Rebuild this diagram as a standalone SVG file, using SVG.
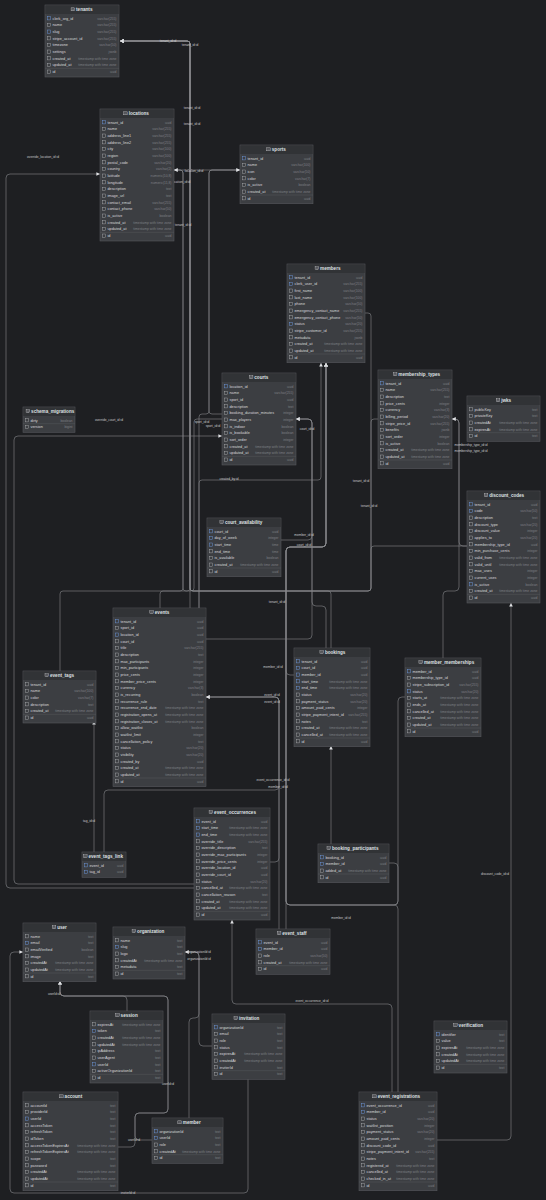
<svg xmlns="http://www.w3.org/2000/svg" xmlns:xlink="http://www.w3.org/1999/xlink" width="546" height="1200" viewBox="0 0 546 1200">
<style>
.bd{fill:#3c3e42;stroke:#56585d;stroke-width:.6}
.hd{fill:#313336}
.tt{font-family:"Liberation Sans",Arial,sans-serif;font-size:4.6px;font-weight:700;fill:#dfe0e3}
.cn{font-family:"Liberation Sans",Arial,sans-serif;font-size:3.8px;fill:#d6d7da}
.ct{font-family:"Liberation Sans",Arial,sans-serif;font-size:3.4px;fill:#7c7e83;text-anchor:end}
.sp{stroke:#56585d;stroke-width:.5}
.cx path{fill:none;stroke:#86888c;stroke-width:.6;marker-end:url(#a)}
.lb{font-family:"Liberation Sans",Arial,sans-serif;font-size:3.2px;fill:#c9cacd;text-anchor:middle}
</style>
<defs>
<marker id="a" viewBox="0 0 6 6" refX="6" refY="3" markerWidth="3.6" markerHeight="3.6" markerUnits="userSpaceOnUse" orient="auto"><path d="M0,0L6,3L0,6z" fill="#e0e1e4"/></marker>
<rect id="i" x="2.4" width="3.2" height="3.2" fill="none" stroke="#b5b6ba" stroke-width=".4"/>
<rect id="f" x="2.4" width="3.2" height="3.2" fill="none" stroke="#6e9ae0" stroke-width=".45"/>
<g id="ti"><rect width="3.6" height="3" fill="none" stroke="#c8c9cc" stroke-width=".4"/><path d="M0,1H3.6M1.2,1V3M2.4,1V3" stroke="#c8c9cc" stroke-width=".3"/></g>
</defs>
<rect width="546" height="1200" fill="#1e1f22"/>

<g id="connectors" class="cx">
<path d="M174,170 H187 Q190,170 190,167 V44 Q190,41 187,41 H120"/>
<path d="M240,170 H193 Q190,170 190,167 V44 Q190,41 187,41 H120"/>
<path d="M190,608 V44 Q190,41 187,41 H120"/>
<path d="M60,671 V594 Q60,591 63,591 H187 Q190,591 190,588 V44 Q190,41 187,41 H120"/>
<path d="M365,313 H368 Q371,313 371,316 V588 Q371,591 368,591 H193 Q190,591 190,588 V44 Q190,41 187,41 H120"/>
<path d="M378,419 H374 Q371,419 371,422 V588 Q371,591 368,591 H193 Q190,591 190,588 V44 Q190,41 187,41 H120"/>
<path d="M467,546 H374 Q371,546 371,549 V588 Q371,591 368,591 H193 Q190,591 190,588 V44 Q190,41 187,41 H120"/>
<path d="M331,648 V594 Q331,591 328,591 H193 Q190,591 190,588 V44 Q190,41 187,41 H120"/>
<path d="M160,608 V594 Q160,591 163,591 H180 Q183,591 183,588 V173 Q183,170 180,170 H174"/>
<path d="M222,419 H197 Q194,419 194,422 V588 Q194,591 191,591 H186 Q183,591 183,588 V173 Q183,170 180,170 H174"/>
<path d="M222,414 H212 Q209,414 209,411 V173 Q209,170 212,170 H240"/>
<path d="M199,608 V417 Q199,414 202,414 H206 Q209,414 209,411 V173 Q209,170 212,170 H240"/>
<path d="M199,608 V483 Q199,480 202,480 H318 Q321,480 321,477 V363"/>
<path d="M294,675 H290 Q286,675 286,671 V551 Q286,547 290,547 H322 Q326,547 326,543 V363"/>
<path d="M405,697 H402 Q398,697 398,701 V901 Q398,905 394,905 H290 Q286,905 286,901 V551 Q286,547 290,547 H322 Q326,547 326,543 V363"/>
<path d="M389,863 H394 Q398,863 398,867 V901 Q398,905 394,905 H290 Q286,905 286,901 V551 Q286,547 290,547 H322 Q326,547 326,543 V363"/>
<path d="M286,929 V551 Q286,547 290,547 H322 Q326,547 326,543 V363"/>
<path d="M398,1092 V909 Q398,905 394,905 H290 Q286,905 286,901 V551 Q286,547 290,547 H322 Q326,547 326,543 V363"/>
<path d="M281,540 H308 Q312,540 312,536 V423 Q312,419 308,419 H296"/>
<path d="M206,639 H308 Q312,639 312,635 V423 Q312,419 308,419 H296"/>
<path d="M326,648 V610 Q326,606 322,606 H316 Q312,606 312,602 V423 Q312,419 308,419 H296"/>
<path d="M194,884 H18 Q14,884 14,880 V440 Q14,436 18,436 H222"/>
<path d="M194,888 H10 Q6,888 6,884 V178 Q6,174 10,174 H100"/>
<path d="M270,862 H275 Q279,862 279,858 V701 Q279,697 275,697 H206"/>
<path d="M104,852 V794 Q104,790 108,790 H275 Q279,790 279,786 V701 Q279,697 275,697 H206"/>
<path d="M279,929 V701 Q279,697 275,697 H206"/>
<path d="M94,852 V721"/>
<path d="M331,844 V746"/>
<path d="M443,658 V595 Q443,591 447,591 H455 Q459,591 459,587 V423 Q459,419 455,419 H452"/>
<path d="M467,546 H463 Q459,546 459,542 V423 Q459,419 455,419 H452"/>
<path d="M437,1140 H507 Q511,1140 511,1136 V603"/>
<path d="M392,1092 V1008 Q392,1004 388,1004 H236 Q232,1004 232,1000 V920"/>
<path d="M127,1011 V1000 Q127,996 123,996 H64 Q60,996 60,992 V981"/>
<path d="M118,1147 H131 Q135,1147 135,1143 V1117 Q135,1113 139,1113 H164 Q168,1113 168,1109 V1000 Q168,996 164,996 H64 Q60,996 60,992 V981"/>
<path d="M152,1140 H139 Q135,1140 135,1136 V1117 Q135,1113 139,1113 H164 Q168,1113 168,1109 V1000 Q168,996 164,996 H64 Q60,996 60,992 V981"/>
<path d="M248,1079 V1189 Q248,1193 244,1193 H14 Q10,1193 10,1189 V956 Q10,952 14,952 H23"/>
<path d="M212,1046 H203 Q199,1046 199,1042 V956 Q199,952 195,952 H185"/>
<path d="M189,1118 V1022 Q189,1018 193,1018 H195 Q199,1018 199,1014 V956 Q199,952 195,952 H185"/>
</g>

<g id="connector-labels">
<text class="lb" x="168" y="42">tenant_id:id</text>
<text class="lb" x="190" y="46">tenant_id:id</text>
<text class="lb" x="192" y="109">tenant_id:id</text>
<text class="lb" x="192" y="125">tenant_id:id</text>
<text class="lb" x="183" y="226">tenant_id:id</text>
<text class="lb" x="361" y="482">tenant_id:id</text>
<text class="lb" x="369" y="507">tenant_id:id</text>
<text class="lb" x="277" y="603">tenant_id:id</text>
<text class="lb" x="194" y="172">location_id:id</text>
<text class="lb" x="181" y="183">location_id:id</text>
<text class="lb" x="43" y="158">override_location_id:id</text>
<text class="lb" x="109" y="421">override_court_id:id</text>
<text class="lb" x="202" y="423">sport_id:id</text>
<text class="lb" x="213" y="427">sport_id:id</text>
<text class="lb" x="307" y="430">court_id:id</text>
<text class="lb" x="304" y="546">court_id:id</text>
<text class="lb" x="229" y="480">created_by:id</text>
<text class="lb" x="304" y="536">member_id:id</text>
<text class="lb" x="273" y="668">member_id:id</text>
<text class="lb" x="278" y="788">member_id:id</text>
<text class="lb" x="341" y="919">member_id:id</text>
<text class="lb" x="471" y="446">membership_type_id:id</text>
<text class="lb" x="471" y="452">membership_type_id:id</text>
<text class="lb" x="272" y="696">event_id:id</text>
<text class="lb" x="272" y="703">event_id:id</text>
<text class="lb" x="273" y="781">event_occurrence_id:id</text>
<text class="lb" x="312" y="1002">event_occurrence_id:id</text>
<text class="lb" x="326" y="744">booking_id:id</text>
<text class="lb" x="89" y="822">tag_id:id</text>
<text class="lb" x="495" y="875">discount_code_id:id</text>
<text class="lb" x="199" y="953">organizationId:id</text>
<text class="lb" x="199" y="960">organizationId:id</text>
<text class="lb" x="54" y="995">userId:id</text>
<text class="lb" x="168" y="1085">userId:id</text>
<text class="lb" x="134" y="1141">userId:id</text>
<text class="lb" x="128" y="1194">inviterId:id</text>
</g>

<g id="tenants" transform="translate(45,5)">
<rect class="bd" width="74" height="72"/><rect class="hd" x=".3" y=".3" width="73.4" height="8.7"/>
<use href="#ti" x="26.1" y="2.8"/><text class="tt" x="31.1" y="6.3">tenants</text>
<use href="#f" y="11.7"/><text class="cn" x="7.5" y="14.6">clerk_org_id</text><text class="ct" x="71.5" y="14.6">varchar(255)</text>
<use href="#i" y="18.4"/><text class="cn" x="7.5" y="21.3">name</text><text class="ct" x="71.5" y="21.3">varchar(255)</text>
<use href="#f" y="25"/><text class="cn" x="7.5" y="27.9">slug</text><text class="ct" x="71.5" y="27.9">varchar(255)</text>
<use href="#i" y="31.7"/><text class="cn" x="7.5" y="34.6">stripe_account_id</text><text class="ct" x="71.5" y="34.6">varchar(255)</text>
<use href="#i" y="38.4"/><text class="cn" x="7.5" y="41.3">timezone</text><text class="ct" x="71.5" y="41.3">varchar(50)</text>
<use href="#i" y="45"/><text class="cn" x="7.5" y="47.9">settings</text><text class="ct" x="71.5" y="47.9">jsonb</text>
<use href="#i" y="51.7"/><text class="cn" x="7.5" y="54.6">created_at</text><text class="ct" x="71.5" y="54.6">timestamp with time zone</text>
<use href="#i" y="58.4"/><text class="cn" x="7.5" y="61.3">updated_at</text><text class="ct" x="71.5" y="61.3">timestamp with time zone</text>
<line class="sp" x1="0" y1="63.3" x2="74" y2="63.3"/>
<use href="#i" y="65"/><text class="cn" x="7.5" y="67.9">id</text><text class="ct" x="71.5" y="67.9">uuid</text>
</g>

<g id="locations" transform="translate(100,109)">
<rect class="bd" width="74" height="132"/><rect class="hd" x=".3" y=".3" width="73.4" height="8.7"/>
<use href="#ti" x="23.7" y="2.8"/><text class="tt" x="28.7" y="6.3">locations</text>
<use href="#f" y="11.7"/><text class="cn" x="7.5" y="14.6">tenant_id</text><text class="ct" x="71.5" y="14.6">uuid</text>
<use href="#i" y="18.4"/><text class="cn" x="7.5" y="21.3">name</text><text class="ct" x="71.5" y="21.3">varchar(255)</text>
<use href="#i" y="25"/><text class="cn" x="7.5" y="27.9">address_line1</text><text class="ct" x="71.5" y="27.9">varchar(255)</text>
<use href="#i" y="31.7"/><text class="cn" x="7.5" y="34.6">address_line2</text><text class="ct" x="71.5" y="34.6">varchar(255)</text>
<use href="#i" y="38.4"/><text class="cn" x="7.5" y="41.3">city</text><text class="ct" x="71.5" y="41.3">varchar(100)</text>
<use href="#i" y="45"/><text class="cn" x="7.5" y="47.9">region</text><text class="ct" x="71.5" y="47.9">varchar(100)</text>
<use href="#i" y="51.7"/><text class="cn" x="7.5" y="54.6">postal_code</text><text class="ct" x="71.5" y="54.6">varchar(20)</text>
<use href="#i" y="58.4"/><text class="cn" x="7.5" y="61.3">country</text><text class="ct" x="71.5" y="61.3">varchar(2)</text>
<use href="#i" y="65"/><text class="cn" x="7.5" y="67.9">latitude</text><text class="ct" x="71.5" y="67.9">numeric(10,8)</text>
<use href="#i" y="71.7"/><text class="cn" x="7.5" y="74.6">longitude</text><text class="ct" x="71.5" y="74.6">numeric(11,8)</text>
<use href="#i" y="78.4"/><text class="cn" x="7.5" y="81.3">description</text><text class="ct" x="71.5" y="81.3">text</text>
<use href="#i" y="85"/><text class="cn" x="7.5" y="87.9">image_url</text><text class="ct" x="71.5" y="87.9">text</text>
<use href="#i" y="91.7"/><text class="cn" x="7.5" y="94.6">contact_email</text><text class="ct" x="71.5" y="94.6">varchar(255)</text>
<use href="#i" y="98.4"/><text class="cn" x="7.5" y="101.3">contact_phone</text><text class="ct" x="71.5" y="101.3">varchar(50)</text>
<use href="#i" y="105"/><text class="cn" x="7.5" y="107.9">is_active</text><text class="ct" x="71.5" y="107.9">boolean</text>
<use href="#i" y="111.7"/><text class="cn" x="7.5" y="114.6">created_at</text><text class="ct" x="71.5" y="114.6">timestamp with time zone</text>
<use href="#i" y="118.4"/><text class="cn" x="7.5" y="121.3">updated_at</text><text class="ct" x="71.5" y="121.3">timestamp with time zone</text>
<line class="sp" x1="0" y1="123.3" x2="74" y2="123.3"/>
<use href="#i" y="125"/><text class="cn" x="7.5" y="127.9">id</text><text class="ct" x="71.5" y="127.9">uuid</text>
</g>

<g id="sports" transform="translate(240,145)">
<rect class="bd" width="73" height="58.7"/><rect class="hd" x=".3" y=".3" width="72.4" height="8.7"/>
<use href="#ti" x="26.8" y="2.8"/><text class="tt" x="31.8" y="6.3">sports</text>
<use href="#f" y="11.7"/><text class="cn" x="7.5" y="14.6">tenant_id</text><text class="ct" x="70.5" y="14.6">uuid</text>
<use href="#i" y="18.4"/><text class="cn" x="7.5" y="21.3">name</text><text class="ct" x="70.5" y="21.3">varchar(100)</text>
<use href="#i" y="25"/><text class="cn" x="7.5" y="27.9">icon</text><text class="ct" x="70.5" y="27.9">varchar(50)</text>
<use href="#i" y="31.7"/><text class="cn" x="7.5" y="34.6">color</text><text class="ct" x="70.5" y="34.6">varchar(7)</text>
<use href="#i" y="38.4"/><text class="cn" x="7.5" y="41.3">is_active</text><text class="ct" x="70.5" y="41.3">boolean</text>
<use href="#i" y="45"/><text class="cn" x="7.5" y="47.9">created_at</text><text class="ct" x="70.5" y="47.9">timestamp with time zone</text>
<line class="sp" x1="0" y1="50" x2="73" y2="50"/>
<use href="#i" y="51.7"/><text class="cn" x="7.5" y="54.6">id</text><text class="ct" x="70.5" y="54.6">uuid</text>
</g>

<g id="schema_migrations" transform="translate(23,407)">
<rect class="bd" width="52" height="25.3"/><rect class="hd" x=".3" y=".3" width="51.4" height="8.7"/>
<use href="#ti" x="3.1" y="2.8"/><text class="tt" x="8.1" y="6.3">schema_migrations</text>
<use href="#i" y="11.7"/><text class="cn" x="7.5" y="14.6">dirty</text><text class="ct" x="49.5" y="14.6">boolean</text>
<line class="sp" x1="0" y1="16.7" x2="52" y2="16.7"/>
<use href="#i" y="18.4"/><text class="cn" x="7.5" y="21.3">version</text><text class="ct" x="49.5" y="21.3">bigint</text>
</g>

<g id="courts" transform="translate(222,373)">
<rect class="bd" width="74" height="92"/><rect class="hd" x=".3" y=".3" width="73.4" height="8.7"/>
<use href="#ti" x="27.3" y="2.8"/><text class="tt" x="32.3" y="6.3">courts</text>
<use href="#f" y="11.7"/><text class="cn" x="7.5" y="14.6">location_id</text><text class="ct" x="71.5" y="14.6">uuid</text>
<use href="#i" y="18.4"/><text class="cn" x="7.5" y="21.3">name</text><text class="ct" x="71.5" y="21.3">varchar(255)</text>
<use href="#i" y="25"/><text class="cn" x="7.5" y="27.9">sport_id</text><text class="ct" x="71.5" y="27.9">uuid</text>
<use href="#i" y="31.7"/><text class="cn" x="7.5" y="34.6">description</text><text class="ct" x="71.5" y="34.6">text</text>
<use href="#i" y="38.4"/><text class="cn" x="7.5" y="41.3">booking_duration_minutes</text><text class="ct" x="71.5" y="41.3">integer</text>
<use href="#i" y="45"/><text class="cn" x="7.5" y="47.9">max_players</text><text class="ct" x="71.5" y="47.9">integer</text>
<use href="#i" y="51.7"/><text class="cn" x="7.5" y="54.6">is_indoor</text><text class="ct" x="71.5" y="54.6">boolean</text>
<use href="#i" y="58.4"/><text class="cn" x="7.5" y="61.3">is_bookable</text><text class="ct" x="71.5" y="61.3">boolean</text>
<use href="#i" y="65"/><text class="cn" x="7.5" y="67.9">sort_order</text><text class="ct" x="71.5" y="67.9">integer</text>
<use href="#i" y="71.7"/><text class="cn" x="7.5" y="74.6">created_at</text><text class="ct" x="71.5" y="74.6">timestamp with time zone</text>
<use href="#i" y="78.4"/><text class="cn" x="7.5" y="81.3">updated_at</text><text class="ct" x="71.5" y="81.3">timestamp with time zone</text>
<line class="sp" x1="0" y1="83.3" x2="74" y2="83.3"/>
<use href="#i" y="85"/><text class="cn" x="7.5" y="87.9">id</text><text class="ct" x="71.5" y="87.9">uuid</text>
</g>

<g id="members" transform="translate(287,264)">
<rect class="bd" width="78" height="98.7"/><rect class="hd" x=".3" y=".3" width="77.4" height="8.7"/>
<use href="#ti" x="28.1" y="2.8"/><text class="tt" x="33.1" y="6.3">members</text>
<use href="#f" y="11.7"/><text class="cn" x="7.5" y="14.6">tenant_id</text><text class="ct" x="75.5" y="14.6">uuid</text>
<use href="#f" y="18.4"/><text class="cn" x="7.5" y="21.3">clerk_user_id</text><text class="ct" x="75.5" y="21.3">varchar(255)</text>
<use href="#i" y="25"/><text class="cn" x="7.5" y="27.9">first_name</text><text class="ct" x="75.5" y="27.9">varchar(100)</text>
<use href="#i" y="31.7"/><text class="cn" x="7.5" y="34.6">last_name</text><text class="ct" x="75.5" y="34.6">varchar(100)</text>
<use href="#i" y="38.4"/><text class="cn" x="7.5" y="41.3">phone</text><text class="ct" x="75.5" y="41.3">varchar(50)</text>
<use href="#i" y="45"/><text class="cn" x="7.5" y="47.9">emergency_contact_name</text><text class="ct" x="75.5" y="47.9">varchar(255)</text>
<use href="#i" y="51.7"/><text class="cn" x="7.5" y="54.6">emergency_contact_phone</text><text class="ct" x="75.5" y="54.6">varchar(50)</text>
<use href="#f" y="58.4"/><text class="cn" x="7.5" y="61.3">status</text><text class="ct" x="75.5" y="61.3">varchar(20)</text>
<use href="#i" y="65"/><text class="cn" x="7.5" y="67.9">stripe_customer_id</text><text class="ct" x="75.5" y="67.9">varchar(255)</text>
<use href="#i" y="71.7"/><text class="cn" x="7.5" y="74.6">metadata</text><text class="ct" x="75.5" y="74.6">jsonb</text>
<use href="#i" y="78.4"/><text class="cn" x="7.5" y="81.3">created_at</text><text class="ct" x="75.5" y="81.3">timestamp with time zone</text>
<use href="#i" y="85"/><text class="cn" x="7.5" y="87.9">updated_at</text><text class="ct" x="75.5" y="87.9">timestamp with time zone</text>
<line class="sp" x1="0" y1="90" x2="78" y2="90"/>
<use href="#i" y="91.7"/><text class="cn" x="7.5" y="94.6">id</text><text class="ct" x="75.5" y="94.6">uuid</text>
</g>

<g id="membership_types" transform="translate(378,370)">
<rect class="bd" width="74" height="98.7"/><rect class="hd" x=".3" y=".3" width="73.4" height="8.7"/>
<use href="#ti" x="15.3" y="2.8"/><text class="tt" x="20.3" y="6.3">membership_types</text>
<use href="#f" y="11.7"/><text class="cn" x="7.5" y="14.6">tenant_id</text><text class="ct" x="71.5" y="14.6">uuid</text>
<use href="#i" y="18.4"/><text class="cn" x="7.5" y="21.3">name</text><text class="ct" x="71.5" y="21.3">varchar(255)</text>
<use href="#i" y="25"/><text class="cn" x="7.5" y="27.9">description</text><text class="ct" x="71.5" y="27.9">text</text>
<use href="#i" y="31.7"/><text class="cn" x="7.5" y="34.6">price_cents</text><text class="ct" x="71.5" y="34.6">integer</text>
<use href="#i" y="38.4"/><text class="cn" x="7.5" y="41.3">currency</text><text class="ct" x="71.5" y="41.3">varchar(3)</text>
<use href="#i" y="45"/><text class="cn" x="7.5" y="47.9">billing_period</text><text class="ct" x="71.5" y="47.9">varchar(20)</text>
<use href="#i" y="51.7"/><text class="cn" x="7.5" y="54.6">stripe_price_id</text><text class="ct" x="71.5" y="54.6">varchar(255)</text>
<use href="#i" y="58.4"/><text class="cn" x="7.5" y="61.3">benefits</text><text class="ct" x="71.5" y="61.3">jsonb</text>
<use href="#i" y="65"/><text class="cn" x="7.5" y="67.9">sort_order</text><text class="ct" x="71.5" y="67.9">integer</text>
<use href="#i" y="71.7"/><text class="cn" x="7.5" y="74.6">is_active</text><text class="ct" x="71.5" y="74.6">boolean</text>
<use href="#i" y="78.4"/><text class="cn" x="7.5" y="81.3">created_at</text><text class="ct" x="71.5" y="81.3">timestamp with time zone</text>
<use href="#i" y="85"/><text class="cn" x="7.5" y="87.9">updated_at</text><text class="ct" x="71.5" y="87.9">timestamp with time zone</text>
<line class="sp" x1="0" y1="90" x2="74" y2="90"/>
<use href="#i" y="91.7"/><text class="cn" x="7.5" y="94.6">id</text><text class="ct" x="71.5" y="94.6">uuid</text>
</g>

<g id="jwks" transform="translate(467,396)">
<rect class="bd" width="73" height="45.3"/><rect class="hd" x=".3" y=".3" width="72.4" height="8.7"/>
<use href="#ti" x="29.2" y="2.8"/><text class="tt" x="34.2" y="6.3">jwks</text>
<use href="#i" y="11.7"/><text class="cn" x="7.5" y="14.6">publicKey</text><text class="ct" x="70.5" y="14.6">text</text>
<use href="#i" y="18.4"/><text class="cn" x="7.5" y="21.3">privateKey</text><text class="ct" x="70.5" y="21.3">text</text>
<use href="#i" y="25"/><text class="cn" x="7.5" y="27.9">createdAt</text><text class="ct" x="70.5" y="27.9">timestamp with time zone</text>
<use href="#i" y="31.7"/><text class="cn" x="7.5" y="34.6">expiresAt</text><text class="ct" x="70.5" y="34.6">timestamp with time zone</text>
<line class="sp" x1="0" y1="36.7" x2="73" y2="36.7"/>
<use href="#i" y="38.4"/><text class="cn" x="7.5" y="41.3">id</text><text class="ct" x="70.5" y="41.3">text</text>
</g>

<g id="discount_codes" transform="translate(467,491)">
<rect class="bd" width="73" height="112"/><rect class="hd" x=".3" y=".3" width="72.4" height="8.7"/>
<use href="#ti" x="17.2" y="2.8"/><text class="tt" x="22.2" y="6.3">discount_codes</text>
<use href="#f" y="11.7"/><text class="cn" x="7.5" y="14.6">tenant_id</text><text class="ct" x="70.5" y="14.6">uuid</text>
<use href="#f" y="18.4"/><text class="cn" x="7.5" y="21.3">code</text><text class="ct" x="70.5" y="21.3">varchar(50)</text>
<use href="#i" y="25"/><text class="cn" x="7.5" y="27.9">description</text><text class="ct" x="70.5" y="27.9">text</text>
<use href="#i" y="31.7"/><text class="cn" x="7.5" y="34.6">discount_type</text><text class="ct" x="70.5" y="34.6">varchar(20)</text>
<use href="#i" y="38.4"/><text class="cn" x="7.5" y="41.3">discount_value</text><text class="ct" x="70.5" y="41.3">integer</text>
<use href="#i" y="45"/><text class="cn" x="7.5" y="47.9">applies_to</text><text class="ct" x="70.5" y="47.9">varchar(20)</text>
<use href="#i" y="51.7"/><text class="cn" x="7.5" y="54.6">membership_type_id</text><text class="ct" x="70.5" y="54.6">uuid</text>
<use href="#i" y="58.4"/><text class="cn" x="7.5" y="61.3">min_purchase_cents</text><text class="ct" x="70.5" y="61.3">integer</text>
<use href="#i" y="65"/><text class="cn" x="7.5" y="67.9">valid_from</text><text class="ct" x="70.5" y="67.9">timestamp with time zone</text>
<use href="#i" y="71.7"/><text class="cn" x="7.5" y="74.6">valid_until</text><text class="ct" x="70.5" y="74.6">timestamp with time zone</text>
<use href="#i" y="78.4"/><text class="cn" x="7.5" y="81.3">max_uses</text><text class="ct" x="70.5" y="81.3">integer</text>
<use href="#i" y="85"/><text class="cn" x="7.5" y="87.9">current_uses</text><text class="ct" x="70.5" y="87.9">integer</text>
<use href="#f" y="91.7"/><text class="cn" x="7.5" y="94.6">is_active</text><text class="ct" x="70.5" y="94.6">boolean</text>
<use href="#i" y="98.4"/><text class="cn" x="7.5" y="101.3">created_at</text><text class="ct" x="70.5" y="101.3">timestamp with time zone</text>
<line class="sp" x1="0" y1="103.3" x2="73" y2="103.3"/>
<use href="#i" y="105"/><text class="cn" x="7.5" y="107.9">id</text><text class="ct" x="70.5" y="107.9">uuid</text>
</g>

<g id="court_availability" transform="translate(207,518)">
<rect class="bd" width="74" height="58.7"/><rect class="hd" x=".3" y=".3" width="73.4" height="8.7"/>
<use href="#ti" x="12.9" y="2.8"/><text class="tt" x="17.9" y="6.3">court_availability</text>
<use href="#f" y="11.7"/><text class="cn" x="7.5" y="14.6">court_id</text><text class="ct" x="71.5" y="14.6">uuid</text>
<use href="#f" y="18.4"/><text class="cn" x="7.5" y="21.3">day_of_week</text><text class="ct" x="71.5" y="21.3">integer</text>
<use href="#f" y="25"/><text class="cn" x="7.5" y="27.9">start_time</text><text class="ct" x="71.5" y="27.9">time</text>
<use href="#i" y="31.7"/><text class="cn" x="7.5" y="34.6">end_time</text><text class="ct" x="71.5" y="34.6">time</text>
<use href="#i" y="38.4"/><text class="cn" x="7.5" y="41.3">is_available</text><text class="ct" x="71.5" y="41.3">boolean</text>
<use href="#i" y="45"/><text class="cn" x="7.5" y="47.9">created_at</text><text class="ct" x="71.5" y="47.9">timestamp with time zone</text>
<line class="sp" x1="0" y1="50" x2="74" y2="50"/>
<use href="#i" y="51.7"/><text class="cn" x="7.5" y="54.6">id</text><text class="ct" x="71.5" y="54.6">uuid</text>
</g>

<g id="events" transform="translate(113,608)">
<rect class="bd" width="93" height="178.7"/><rect class="hd" x=".3" y=".3" width="92.4" height="8.7"/>
<use href="#ti" x="36.8" y="2.8"/><text class="tt" x="41.8" y="6.3">events</text>
<use href="#f" y="11.7"/><text class="cn" x="7.5" y="14.6">tenant_id</text><text class="ct" x="90.5" y="14.6">uuid</text>
<use href="#i" y="18.4"/><text class="cn" x="7.5" y="21.3">sport_id</text><text class="ct" x="90.5" y="21.3">uuid</text>
<use href="#f" y="25"/><text class="cn" x="7.5" y="27.9">location_id</text><text class="ct" x="90.5" y="27.9">uuid</text>
<use href="#i" y="31.7"/><text class="cn" x="7.5" y="34.6">court_id</text><text class="ct" x="90.5" y="34.6">uuid</text>
<use href="#i" y="38.4"/><text class="cn" x="7.5" y="41.3">title</text><text class="ct" x="90.5" y="41.3">varchar(255)</text>
<use href="#i" y="45"/><text class="cn" x="7.5" y="47.9">description</text><text class="ct" x="90.5" y="47.9">text</text>
<use href="#i" y="51.7"/><text class="cn" x="7.5" y="54.6">max_participants</text><text class="ct" x="90.5" y="54.6">integer</text>
<use href="#i" y="58.4"/><text class="cn" x="7.5" y="61.3">min_participants</text><text class="ct" x="90.5" y="61.3">integer</text>
<use href="#i" y="65"/><text class="cn" x="7.5" y="67.9">price_cents</text><text class="ct" x="90.5" y="67.9">integer</text>
<use href="#i" y="71.7"/><text class="cn" x="7.5" y="74.6">member_price_cents</text><text class="ct" x="90.5" y="74.6">integer</text>
<use href="#i" y="78.4"/><text class="cn" x="7.5" y="81.3">currency</text><text class="ct" x="90.5" y="81.3">varchar(3)</text>
<use href="#i" y="85"/><text class="cn" x="7.5" y="87.9">is_recurring</text><text class="ct" x="90.5" y="87.9">boolean</text>
<use href="#i" y="91.7"/><text class="cn" x="7.5" y="94.6">recurrence_rule</text><text class="ct" x="90.5" y="94.6">text</text>
<use href="#i" y="98.4"/><text class="cn" x="7.5" y="101.3">recurrence_end_date</text><text class="ct" x="90.5" y="101.3">timestamp with time zone</text>
<use href="#i" y="105"/><text class="cn" x="7.5" y="107.9">registration_opens_at</text><text class="ct" x="90.5" y="107.9">timestamp with time zone</text>
<use href="#i" y="111.7"/><text class="cn" x="7.5" y="114.6">registration_closes_at</text><text class="ct" x="90.5" y="114.6">timestamp with time zone</text>
<use href="#i" y="118.4"/><text class="cn" x="7.5" y="121.3">allow_waitlist</text><text class="ct" x="90.5" y="121.3">boolean</text>
<use href="#i" y="125"/><text class="cn" x="7.5" y="127.9">waitlist_limit</text><text class="ct" x="90.5" y="127.9">integer</text>
<use href="#i" y="131.7"/><text class="cn" x="7.5" y="134.6">cancellation_policy</text><text class="ct" x="90.5" y="134.6">text</text>
<use href="#i" y="138.4"/><text class="cn" x="7.5" y="141.3">status</text><text class="ct" x="90.5" y="141.3">varchar(20)</text>
<use href="#i" y="145"/><text class="cn" x="7.5" y="147.9">visibility</text><text class="ct" x="90.5" y="147.9">varchar(20)</text>
<use href="#i" y="151.7"/><text class="cn" x="7.5" y="154.6">created_by</text><text class="ct" x="90.5" y="154.6">uuid</text>
<use href="#i" y="158.4"/><text class="cn" x="7.5" y="161.3">created_at</text><text class="ct" x="90.5" y="161.3">timestamp with time zone</text>
<use href="#i" y="165"/><text class="cn" x="7.5" y="167.9">updated_at</text><text class="ct" x="90.5" y="167.9">timestamp with time zone</text>
<line class="sp" x1="0" y1="170" x2="93" y2="170"/>
<use href="#i" y="171.7"/><text class="cn" x="7.5" y="174.6">id</text><text class="ct" x="90.5" y="174.6">uuid</text>
</g>

<g id="event_tags" transform="translate(23,671)">
<rect class="bd" width="73" height="52"/><rect class="hd" x=".3" y=".3" width="72.4" height="8.7"/>
<use href="#ti" x="22" y="2.8"/><text class="tt" x="27" y="6.3">event_tags</text>
<use href="#i" y="11.7"/><text class="cn" x="7.5" y="14.6">tenant_id</text><text class="ct" x="70.5" y="14.6">uuid</text>
<use href="#i" y="18.4"/><text class="cn" x="7.5" y="21.3">name</text><text class="ct" x="70.5" y="21.3">varchar(100)</text>
<use href="#i" y="25"/><text class="cn" x="7.5" y="27.9">color</text><text class="ct" x="70.5" y="27.9">varchar(7)</text>
<use href="#i" y="31.7"/><text class="cn" x="7.5" y="34.6">description</text><text class="ct" x="70.5" y="34.6">text</text>
<use href="#i" y="38.4"/><text class="cn" x="7.5" y="41.3">created_at</text><text class="ct" x="70.5" y="41.3">timestamp with time zone</text>
<line class="sp" x1="0" y1="43.3" x2="73" y2="43.3"/>
<use href="#i" y="45"/><text class="cn" x="7.5" y="47.9">id</text><text class="ct" x="70.5" y="47.9">uuid</text>
</g>

<g id="bookings" transform="translate(294,648)">
<rect class="bd" width="76" height="98.7"/><rect class="hd" x=".3" y=".3" width="75.4" height="8.7"/>
<use href="#ti" x="25.9" y="2.8"/><text class="tt" x="30.9" y="6.3">bookings</text>
<use href="#f" y="11.7"/><text class="cn" x="7.5" y="14.6">tenant_id</text><text class="ct" x="73.5" y="14.6">uuid</text>
<use href="#f" y="18.4"/><text class="cn" x="7.5" y="21.3">court_id</text><text class="ct" x="73.5" y="21.3">uuid</text>
<use href="#f" y="25"/><text class="cn" x="7.5" y="27.9">member_id</text><text class="ct" x="73.5" y="27.9">uuid</text>
<use href="#f" y="31.7"/><text class="cn" x="7.5" y="34.6">start_time</text><text class="ct" x="73.5" y="34.6">timestamp with time zone</text>
<use href="#f" y="38.4"/><text class="cn" x="7.5" y="41.3">end_time</text><text class="ct" x="73.5" y="41.3">timestamp with time zone</text>
<use href="#i" y="45"/><text class="cn" x="7.5" y="47.9">status</text><text class="ct" x="73.5" y="47.9">varchar(20)</text>
<use href="#i" y="51.7"/><text class="cn" x="7.5" y="54.6">payment_status</text><text class="ct" x="73.5" y="54.6">varchar(20)</text>
<use href="#i" y="58.4"/><text class="cn" x="7.5" y="61.3">amount_paid_cents</text><text class="ct" x="73.5" y="61.3">integer</text>
<use href="#i" y="65"/><text class="cn" x="7.5" y="67.9">stripe_payment_intent_id</text><text class="ct" x="73.5" y="67.9">varchar(255)</text>
<use href="#i" y="71.7"/><text class="cn" x="7.5" y="74.6">notes</text><text class="ct" x="73.5" y="74.6">text</text>
<use href="#i" y="78.4"/><text class="cn" x="7.5" y="81.3">created_at</text><text class="ct" x="73.5" y="81.3">timestamp with time zone</text>
<use href="#i" y="85"/><text class="cn" x="7.5" y="87.9">cancelled_at</text><text class="ct" x="73.5" y="87.9">timestamp with time zone</text>
<line class="sp" x1="0" y1="90" x2="76" y2="90"/>
<use href="#i" y="91.7"/><text class="cn" x="7.5" y="94.6">id</text><text class="ct" x="73.5" y="94.6">uuid</text>
</g>

<g id="member_memberships" transform="translate(405,658)">
<rect class="bd" width="76" height="78.7"/><rect class="hd" x=".3" y=".3" width="75.4" height="8.7"/>
<use href="#ti" x="13.9" y="2.8"/><text class="tt" x="18.9" y="6.3">member_memberships</text>
<use href="#f" y="11.7"/><text class="cn" x="7.5" y="14.6">member_id</text><text class="ct" x="73.5" y="14.6">uuid</text>
<use href="#i" y="18.4"/><text class="cn" x="7.5" y="21.3">membership_type_id</text><text class="ct" x="73.5" y="21.3">uuid</text>
<use href="#i" y="25"/><text class="cn" x="7.5" y="27.9">stripe_subscription_id</text><text class="ct" x="73.5" y="27.9">varchar(255)</text>
<use href="#f" y="31.7"/><text class="cn" x="7.5" y="34.6">status</text><text class="ct" x="73.5" y="34.6">varchar(20)</text>
<use href="#i" y="38.4"/><text class="cn" x="7.5" y="41.3">starts_at</text><text class="ct" x="73.5" y="41.3">timestamp with time zone</text>
<use href="#i" y="45"/><text class="cn" x="7.5" y="47.9">ends_at</text><text class="ct" x="73.5" y="47.9">timestamp with time zone</text>
<use href="#i" y="51.7"/><text class="cn" x="7.5" y="54.6">cancelled_at</text><text class="ct" x="73.5" y="54.6">timestamp with time zone</text>
<use href="#i" y="58.4"/><text class="cn" x="7.5" y="61.3">created_at</text><text class="ct" x="73.5" y="61.3">timestamp with time zone</text>
<use href="#i" y="65"/><text class="cn" x="7.5" y="67.9">updated_at</text><text class="ct" x="73.5" y="67.9">timestamp with time zone</text>
<line class="sp" x1="0" y1="70" x2="76" y2="70"/>
<use href="#i" y="71.7"/><text class="cn" x="7.5" y="74.6">id</text><text class="ct" x="73.5" y="74.6">uuid</text>
</g>

<g id="event_occurrences" transform="translate(194,808)">
<rect class="bd" width="76" height="112"/><rect class="hd" x=".3" y=".3" width="75.4" height="8.7"/>
<use href="#ti" x="15.1" y="2.8"/><text class="tt" x="20.1" y="6.3">event_occurrences</text>
<use href="#f" y="11.7"/><text class="cn" x="7.5" y="14.6">event_id</text><text class="ct" x="73.5" y="14.6">uuid</text>
<use href="#f" y="18.4"/><text class="cn" x="7.5" y="21.3">start_time</text><text class="ct" x="73.5" y="21.3">timestamp with time zone</text>
<use href="#f" y="25"/><text class="cn" x="7.5" y="27.9">end_time</text><text class="ct" x="73.5" y="27.9">timestamp with time zone</text>
<use href="#i" y="31.7"/><text class="cn" x="7.5" y="34.6">override_title</text><text class="ct" x="73.5" y="34.6">varchar(255)</text>
<use href="#i" y="38.4"/><text class="cn" x="7.5" y="41.3">override_description</text><text class="ct" x="73.5" y="41.3">text</text>
<use href="#i" y="45"/><text class="cn" x="7.5" y="47.9">override_max_participants</text><text class="ct" x="73.5" y="47.9">integer</text>
<use href="#i" y="51.7"/><text class="cn" x="7.5" y="54.6">override_price_cents</text><text class="ct" x="73.5" y="54.6">integer</text>
<use href="#i" y="58.4"/><text class="cn" x="7.5" y="61.3">override_location_id</text><text class="ct" x="73.5" y="61.3">uuid</text>
<use href="#i" y="65"/><text class="cn" x="7.5" y="67.9">override_court_id</text><text class="ct" x="73.5" y="67.9">uuid</text>
<use href="#i" y="71.7"/><text class="cn" x="7.5" y="74.6">status</text><text class="ct" x="73.5" y="74.6">varchar(20)</text>
<use href="#i" y="78.4"/><text class="cn" x="7.5" y="81.3">cancelled_at</text><text class="ct" x="73.5" y="81.3">timestamp with time zone</text>
<use href="#i" y="85"/><text class="cn" x="7.5" y="87.9">cancellation_reason</text><text class="ct" x="73.5" y="87.9">text</text>
<use href="#i" y="91.7"/><text class="cn" x="7.5" y="94.6">created_at</text><text class="ct" x="73.5" y="94.6">timestamp with time zone</text>
<use href="#i" y="98.4"/><text class="cn" x="7.5" y="101.3">updated_at</text><text class="ct" x="73.5" y="101.3">timestamp with time zone</text>
<line class="sp" x1="0" y1="103.3" x2="76" y2="103.3"/>
<use href="#i" y="105"/><text class="cn" x="7.5" y="107.9">id</text><text class="ct" x="73.5" y="107.9">uuid</text>
</g>

<g id="event_tags_link" transform="translate(82,852)">
<rect class="bd" width="44" height="25.3"/><rect class="hd" x=".3" y=".3" width="43.4" height="8.7"/>
<use href="#ti" x="1.5" y="2.8"/><text class="tt" x="6.5" y="6.3">event_tags_link</text>
<use href="#f" y="11.7"/><text class="cn" x="7.5" y="14.6">event_id</text><text class="ct" x="41.5" y="14.6">uuid</text>
<use href="#f" y="18.4"/><text class="cn" x="7.5" y="21.3">tag_id</text><text class="ct" x="41.5" y="21.3">uuid</text>
</g>

<g id="booking_participants" transform="translate(318,844)">
<rect class="bd" width="71" height="38.7"/><rect class="hd" x=".3" y=".3" width="70.4" height="8.7"/>
<use href="#ti" x="9" y="2.8"/><text class="tt" x="14" y="6.3">booking_participants</text>
<use href="#f" y="11.7"/><text class="cn" x="7.5" y="14.6">booking_id</text><text class="ct" x="68.5" y="14.6">uuid</text>
<use href="#f" y="18.4"/><text class="cn" x="7.5" y="21.3">member_id</text><text class="ct" x="68.5" y="21.3">uuid</text>
<use href="#i" y="25"/><text class="cn" x="7.5" y="27.9">added_at</text><text class="ct" x="68.5" y="27.9">timestamp with time zone</text>
<line class="sp" x1="0" y1="30" x2="71" y2="30"/>
<use href="#i" y="31.7"/><text class="cn" x="7.5" y="34.6">id</text><text class="ct" x="68.5" y="34.6">uuid</text>
</g>

<g id="user" transform="translate(23,923)">
<rect class="bd" width="73" height="58.7"/><rect class="hd" x=".3" y=".3" width="72.4" height="8.7"/>
<use href="#ti" x="29.2" y="2.8"/><text class="tt" x="34.2" y="6.3">user</text>
<use href="#i" y="11.7"/><text class="cn" x="7.5" y="14.6">name</text><text class="ct" x="70.5" y="14.6">text</text>
<use href="#f" y="18.4"/><text class="cn" x="7.5" y="21.3">email</text><text class="ct" x="70.5" y="21.3">text</text>
<use href="#i" y="25"/><text class="cn" x="7.5" y="27.9">emailVerified</text><text class="ct" x="70.5" y="27.9">boolean</text>
<use href="#i" y="31.7"/><text class="cn" x="7.5" y="34.6">image</text><text class="ct" x="70.5" y="34.6">text</text>
<use href="#i" y="38.4"/><text class="cn" x="7.5" y="41.3">createdAt</text><text class="ct" x="70.5" y="41.3">timestamp with time zone</text>
<use href="#i" y="45"/><text class="cn" x="7.5" y="47.9">updatedAt</text><text class="ct" x="70.5" y="47.9">timestamp with time zone</text>
<line class="sp" x1="0" y1="50" x2="73" y2="50"/>
<use href="#i" y="51.7"/><text class="cn" x="7.5" y="54.6">id</text><text class="ct" x="70.5" y="54.6">text</text>
</g>

<g id="organization" transform="translate(113,927)">
<rect class="bd" width="72" height="52"/><rect class="hd" x=".3" y=".3" width="71.4" height="8.7"/>
<use href="#ti" x="19.1" y="2.8"/><text class="tt" x="24.1" y="6.3">organization</text>
<use href="#i" y="11.7"/><text class="cn" x="7.5" y="14.6">name</text><text class="ct" x="69.5" y="14.6">text</text>
<use href="#f" y="18.4"/><text class="cn" x="7.5" y="21.3">slug</text><text class="ct" x="69.5" y="21.3">text</text>
<use href="#i" y="25"/><text class="cn" x="7.5" y="27.9">logo</text><text class="ct" x="69.5" y="27.9">text</text>
<use href="#i" y="31.7"/><text class="cn" x="7.5" y="34.6">createdAt</text><text class="ct" x="69.5" y="34.6">timestamp with time zone</text>
<use href="#i" y="38.4"/><text class="cn" x="7.5" y="41.3">metadata</text><text class="ct" x="69.5" y="41.3">text</text>
<line class="sp" x1="0" y1="43.3" x2="72" y2="43.3"/>
<use href="#i" y="45"/><text class="cn" x="7.5" y="47.9">id</text><text class="ct" x="69.5" y="47.9">text</text>
</g>

<g id="event_staff" transform="translate(256,929)">
<rect class="bd" width="74" height="45.3"/><rect class="hd" x=".3" y=".3" width="73.4" height="8.7"/>
<use href="#ti" x="21.3" y="2.8"/><text class="tt" x="26.3" y="6.3">event_staff</text>
<use href="#f" y="11.7"/><text class="cn" x="7.5" y="14.6">event_id</text><text class="ct" x="71.5" y="14.6">uuid</text>
<use href="#f" y="18.4"/><text class="cn" x="7.5" y="21.3">member_id</text><text class="ct" x="71.5" y="21.3">uuid</text>
<use href="#i" y="25"/><text class="cn" x="7.5" y="27.9">role</text><text class="ct" x="71.5" y="27.9">varchar(50)</text>
<use href="#i" y="31.7"/><text class="cn" x="7.5" y="34.6">created_at</text><text class="ct" x="71.5" y="34.6">timestamp with time zone</text>
<line class="sp" x1="0" y1="36.7" x2="74" y2="36.7"/>
<use href="#i" y="38.4"/><text class="cn" x="7.5" y="41.3">id</text><text class="ct" x="71.5" y="41.3">uuid</text>
</g>

<g id="session" transform="translate(90,1011)">
<rect class="bd" width="73" height="72"/><rect class="hd" x=".3" y=".3" width="72.4" height="8.7"/>
<use href="#ti" x="25.6" y="2.8"/><text class="tt" x="30.6" y="6.3">session</text>
<use href="#i" y="11.7"/><text class="cn" x="7.5" y="14.6">expiresAt</text><text class="ct" x="70.5" y="14.6">timestamp with time zone</text>
<use href="#f" y="18.4"/><text class="cn" x="7.5" y="21.3">token</text><text class="ct" x="70.5" y="21.3">text</text>
<use href="#i" y="25"/><text class="cn" x="7.5" y="27.9">createdAt</text><text class="ct" x="70.5" y="27.9">timestamp with time zone</text>
<use href="#i" y="31.7"/><text class="cn" x="7.5" y="34.6">updatedAt</text><text class="ct" x="70.5" y="34.6">timestamp with time zone</text>
<use href="#i" y="38.4"/><text class="cn" x="7.5" y="41.3">ipAddress</text><text class="ct" x="70.5" y="41.3">text</text>
<use href="#i" y="45"/><text class="cn" x="7.5" y="47.9">userAgent</text><text class="ct" x="70.5" y="47.9">text</text>
<use href="#f" y="51.7"/><text class="cn" x="7.5" y="54.6">userId</text><text class="ct" x="70.5" y="54.6">text</text>
<use href="#i" y="58.4"/><text class="cn" x="7.5" y="61.3">activeOrganizationId</text><text class="ct" x="70.5" y="61.3">text</text>
<line class="sp" x1="0" y1="63.3" x2="73" y2="63.3"/>
<use href="#i" y="65"/><text class="cn" x="7.5" y="67.9">id</text><text class="ct" x="70.5" y="67.9">text</text>
</g>

<g id="invitation" transform="translate(212,1014)">
<rect class="bd" width="73" height="65.3"/><rect class="hd" x=".3" y=".3" width="72.4" height="8.7"/>
<use href="#ti" x="22" y="2.8"/><text class="tt" x="27" y="6.3">invitation</text>
<use href="#f" y="11.7"/><text class="cn" x="7.5" y="14.6">organizationId</text><text class="ct" x="70.5" y="14.6">text</text>
<use href="#i" y="18.4"/><text class="cn" x="7.5" y="21.3">email</text><text class="ct" x="70.5" y="21.3">text</text>
<use href="#i" y="25"/><text class="cn" x="7.5" y="27.9">role</text><text class="ct" x="70.5" y="27.9">text</text>
<use href="#i" y="31.7"/><text class="cn" x="7.5" y="34.6">status</text><text class="ct" x="70.5" y="34.6">text</text>
<use href="#i" y="38.4"/><text class="cn" x="7.5" y="41.3">expiresAt</text><text class="ct" x="70.5" y="41.3">timestamp with time zone</text>
<use href="#i" y="45"/><text class="cn" x="7.5" y="47.9">createdAt</text><text class="ct" x="70.5" y="47.9">timestamp with time zone</text>
<use href="#i" y="51.7"/><text class="cn" x="7.5" y="54.6">inviterId</text><text class="ct" x="70.5" y="54.6">text</text>
<line class="sp" x1="0" y1="56.7" x2="73" y2="56.7"/>
<use href="#i" y="58.4"/><text class="cn" x="7.5" y="61.3">id</text><text class="ct" x="70.5" y="61.3">text</text>
</g>

<g id="account" transform="translate(23,1092)">
<rect class="bd" width="95" height="98.7"/><rect class="hd" x=".3" y=".3" width="94.4" height="8.7"/>
<use href="#ti" x="36.6" y="2.8"/><text class="tt" x="41.6" y="6.3">account</text>
<use href="#i" y="11.7"/><text class="cn" x="7.5" y="14.6">accountId</text><text class="ct" x="92.5" y="14.6">text</text>
<use href="#i" y="18.4"/><text class="cn" x="7.5" y="21.3">providerId</text><text class="ct" x="92.5" y="21.3">text</text>
<use href="#f" y="25"/><text class="cn" x="7.5" y="27.9">userId</text><text class="ct" x="92.5" y="27.9">text</text>
<use href="#i" y="31.7"/><text class="cn" x="7.5" y="34.6">accessToken</text><text class="ct" x="92.5" y="34.6">text</text>
<use href="#i" y="38.4"/><text class="cn" x="7.5" y="41.3">refreshToken</text><text class="ct" x="92.5" y="41.3">text</text>
<use href="#i" y="45"/><text class="cn" x="7.5" y="47.9">idToken</text><text class="ct" x="92.5" y="47.9">text</text>
<use href="#i" y="51.7"/><text class="cn" x="7.5" y="54.6">accessTokenExpiresAt</text><text class="ct" x="92.5" y="54.6">timestamp with time zone</text>
<use href="#i" y="58.4"/><text class="cn" x="7.5" y="61.3">refreshTokenExpiresAt</text><text class="ct" x="92.5" y="61.3">timestamp with time zone</text>
<use href="#i" y="65"/><text class="cn" x="7.5" y="67.9">scope</text><text class="ct" x="92.5" y="67.9">text</text>
<use href="#i" y="71.7"/><text class="cn" x="7.5" y="74.6">password</text><text class="ct" x="92.5" y="74.6">text</text>
<use href="#i" y="78.4"/><text class="cn" x="7.5" y="81.3">createdAt</text><text class="ct" x="92.5" y="81.3">timestamp with time zone</text>
<use href="#i" y="85"/><text class="cn" x="7.5" y="87.9">updatedAt</text><text class="ct" x="92.5" y="87.9">timestamp with time zone</text>
<line class="sp" x1="0" y1="90" x2="95" y2="90"/>
<use href="#i" y="91.7"/><text class="cn" x="7.5" y="94.6">id</text><text class="ct" x="92.5" y="94.6">text</text>
</g>

<g id="member" transform="translate(152,1118)">
<rect class="bd" width="71" height="45.3"/><rect class="hd" x=".3" y=".3" width="70.4" height="8.7"/>
<use href="#ti" x="25.8" y="2.8"/><text class="tt" x="30.8" y="6.3">member</text>
<use href="#f" y="11.7"/><text class="cn" x="7.5" y="14.6">organizationId</text><text class="ct" x="68.5" y="14.6">text</text>
<use href="#f" y="18.4"/><text class="cn" x="7.5" y="21.3">userId</text><text class="ct" x="68.5" y="21.3">text</text>
<use href="#i" y="25"/><text class="cn" x="7.5" y="27.9">role</text><text class="ct" x="68.5" y="27.9">text</text>
<use href="#i" y="31.7"/><text class="cn" x="7.5" y="34.6">createdAt</text><text class="ct" x="68.5" y="34.6">timestamp with time zone</text>
<line class="sp" x1="0" y1="36.7" x2="71" y2="36.7"/>
<use href="#i" y="38.4"/><text class="cn" x="7.5" y="41.3">id</text><text class="ct" x="68.5" y="41.3">text</text>
</g>

<g id="verification" transform="translate(434,1021)">
<rect class="bd" width="73" height="52"/><rect class="hd" x=".3" y=".3" width="72.4" height="8.7"/>
<use href="#ti" x="19.6" y="2.8"/><text class="tt" x="24.6" y="6.3">verification</text>
<use href="#f" y="11.7"/><text class="cn" x="7.5" y="14.6">identifier</text><text class="ct" x="70.5" y="14.6">text</text>
<use href="#i" y="18.4"/><text class="cn" x="7.5" y="21.3">value</text><text class="ct" x="70.5" y="21.3">text</text>
<use href="#i" y="25"/><text class="cn" x="7.5" y="27.9">expiresAt</text><text class="ct" x="70.5" y="27.9">timestamp with time zone</text>
<use href="#i" y="31.7"/><text class="cn" x="7.5" y="34.6">createdAt</text><text class="ct" x="70.5" y="34.6">timestamp with time zone</text>
<use href="#i" y="38.4"/><text class="cn" x="7.5" y="41.3">updatedAt</text><text class="ct" x="70.5" y="41.3">timestamp with time zone</text>
<line class="sp" x1="0" y1="43.3" x2="73" y2="43.3"/>
<use href="#i" y="45"/><text class="cn" x="7.5" y="47.9">id</text><text class="ct" x="70.5" y="47.9">text</text>
</g>

<g id="event_registrations" transform="translate(359,1092)">
<rect class="bd" width="78" height="98.7"/><rect class="hd" x=".3" y=".3" width="77.4" height="8.7"/>
<use href="#ti" x="13.7" y="2.8"/><text class="tt" x="18.7" y="6.3">event_registrations</text>
<use href="#f" y="11.7"/><text class="cn" x="7.5" y="14.6">event_occurrence_id</text><text class="ct" x="75.5" y="14.6">uuid</text>
<use href="#f" y="18.4"/><text class="cn" x="7.5" y="21.3">member_id</text><text class="ct" x="75.5" y="21.3">uuid</text>
<use href="#i" y="25"/><text class="cn" x="7.5" y="27.9">status</text><text class="ct" x="75.5" y="27.9">varchar(20)</text>
<use href="#i" y="31.7"/><text class="cn" x="7.5" y="34.6">waitlist_position</text><text class="ct" x="75.5" y="34.6">integer</text>
<use href="#i" y="38.4"/><text class="cn" x="7.5" y="41.3">payment_status</text><text class="ct" x="75.5" y="41.3">varchar(20)</text>
<use href="#i" y="45"/><text class="cn" x="7.5" y="47.9">amount_paid_cents</text><text class="ct" x="75.5" y="47.9">integer</text>
<use href="#i" y="51.7"/><text class="cn" x="7.5" y="54.6">discount_code_id</text><text class="ct" x="75.5" y="54.6">uuid</text>
<use href="#i" y="58.4"/><text class="cn" x="7.5" y="61.3">stripe_payment_intent_id</text><text class="ct" x="75.5" y="61.3">varchar(255)</text>
<use href="#i" y="65"/><text class="cn" x="7.5" y="67.9">notes</text><text class="ct" x="75.5" y="67.9">text</text>
<use href="#i" y="71.7"/><text class="cn" x="7.5" y="74.6">registered_at</text><text class="ct" x="75.5" y="74.6">timestamp with time zone</text>
<use href="#i" y="78.4"/><text class="cn" x="7.5" y="81.3">cancelled_at</text><text class="ct" x="75.5" y="81.3">timestamp with time zone</text>
<use href="#i" y="85"/><text class="cn" x="7.5" y="87.9">checked_in_at</text><text class="ct" x="75.5" y="87.9">timestamp with time zone</text>
<line class="sp" x1="0" y1="90" x2="78" y2="90"/>
<use href="#i" y="91.7"/><text class="cn" x="7.5" y="94.6">id</text><text class="ct" x="75.5" y="94.6">uuid</text>
</g>
</svg>
